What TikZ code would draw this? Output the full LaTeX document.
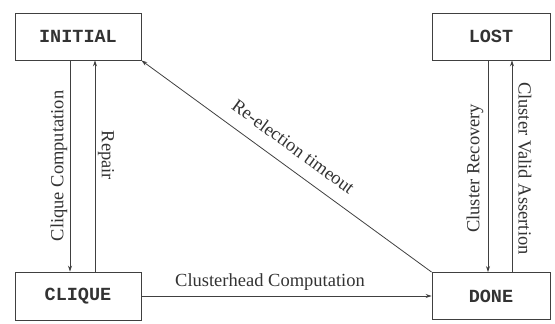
\documentclass[tikz,border=0pt]{standalone}
\usepackage{fontspec}
\setmainfont{Liberation Serif}
\newfontfamily\boxfont{Liberation Mono}
\usetikzlibrary{arrows.meta}
\tikzset{
  state/.style={draw=black!75, line width=0.9pt, rectangle, inner sep=0pt,
    font=\boxfont\bfseries\fontsize{18.5}{20}\selectfont, text=black!80},
  arr/.style={draw=black!75, line width=0.8pt, -{Stealth[length=6pt,width=4pt]}},
  lab/.style={font=\fontsize{18.5}{20}\selectfont, text=black!80, inner sep=0pt}
}
\begin{document}
\begin{tikzpicture}[x=1pt,y=1pt]
\useasboundingbox (0,0) rectangle (555,324);
\node[state, minimum width=126pt, minimum height=47pt] (INITIAL) at (78,287.5) {INITIAL};
\node[state, minimum width=118pt, minimum height=47pt] (LOST) at (491,287.5) {LOST};
\node[state, minimum width=126pt, minimum height=48pt] (CLIQUE) at (78,28) {CLIQUE};
\node[state, minimum width=118pt, minimum height=47pt] (DONE) at (491,28) {DONE};

\draw[arr] ([xshift=-8pt]INITIAL.south) -- ([xshift=-8pt]CLIQUE.north)
  node[pos=0.5, xshift=-11pt, rotate=90, lab] {Clique Computation};
\draw[arr] ([xshift=17pt]CLIQUE.north) -- ([xshift=17pt]INITIAL.south)
  node[pos=0.55, xshift=11pt, rotate=-90, lab] {Repair};
\draw[arr] ([xshift=-3pt]LOST.south) -- ([xshift=-3pt]DONE.north)
  node[pos=0.51, xshift=-13pt, rotate=90, lab] {Cluster Recovery};
\draw[arr] ([xshift=21pt]DONE.north) -- ([xshift=21pt]LOST.south)
  node[pos=0.49, xshift=13pt, rotate=-90, lab] {Cluster Valid Assertion};
\draw[arr] (CLIQUE.east) -- (DONE.west)
  node[pos=0.443, yshift=14pt, lab] {Clusterhead Computation};
\draw[arr] (DONE.north west) -- (INITIAL.south east)
  node[pos=0.517, xshift=11.8pt, yshift=16.1pt, rotate=-36.2, lab] {Re-election timeout};
\end{tikzpicture}
\end{document}
